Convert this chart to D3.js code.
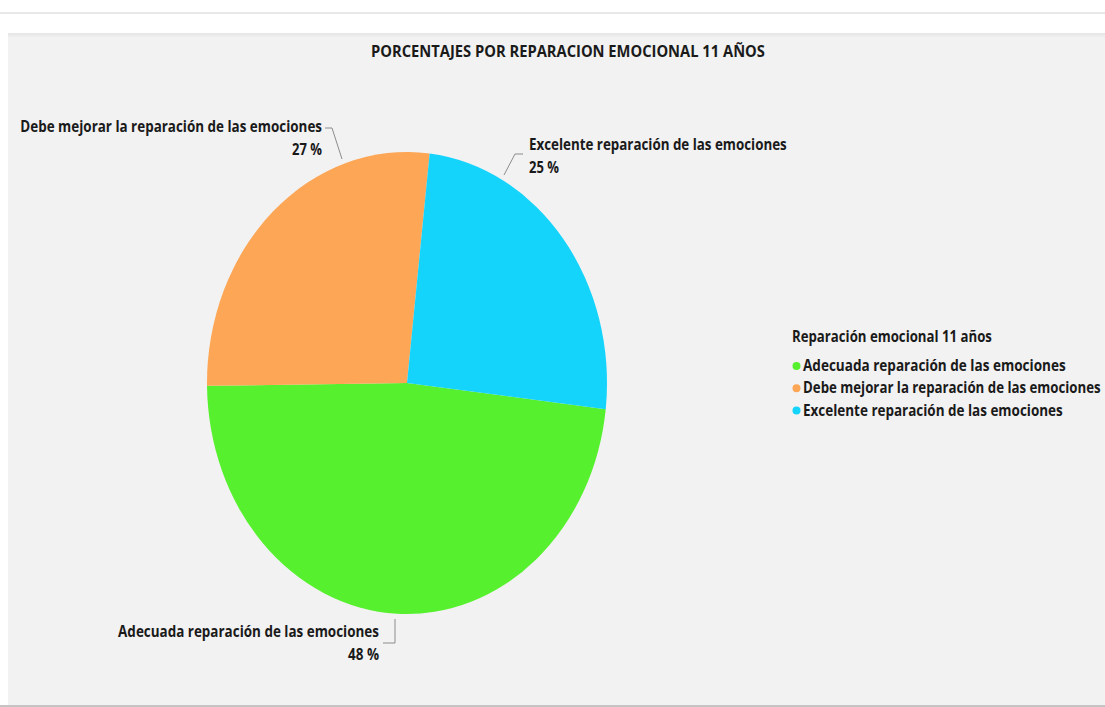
<!DOCTYPE html>
<html>
<head>
<meta charset="utf-8">
<script src="https://cdnjs.cloudflare.com/ajax/libs/d3/7.8.5/d3.min.js"></script>
<style>
  html, body { margin: 0; padding: 0; background: #ffffff; }
  svg { display: block; }
  text { font-family: "Liberation Sans Narrow", "Open Sans", "Noto Sans", sans-serif; font-weight: bold; fill: #1a1a1a; }
</style>
</head>
<body>
<svg id="chart" width="1105" height="707"></svg>
<script>
// Survey result: emotional repair, 11-year-olds
const categories = [
  "Adecuada reparación de las emociones",
  "Debe mejorar la reparación de las emociones",
  "Excelente reparación de las emociones"
];
const percentages = [48, 27, 25];
const colors = ["#56f02e", "#fca656", "#14d4fc"];
const chartTitle = "PORCENTAJES POR REPARACION EMOCIONAL 11 AÑOS";
const legendTitle = "Reparación emocional 11 años";

const W = 1105, H = 707;
const svg = d3.select("#chart");

// page frame and chart panel
svg.append("rect").attr("x", 0).attr("y", 12).attr("width", W).attr("height", 2).attr("fill", "#e8e8e8");
const defs = svg.append("defs");
const sh = defs.append("linearGradient").attr("id", "topShade").attr("x1", 0).attr("y1", 0).attr("x2", 0).attr("y2", 1);
sh.append("stop").attr("offset", 0).attr("stop-color", "#e4e4e4");
sh.append("stop").attr("offset", 1).attr("stop-color", "#f2f2f2");
svg.append("rect").attr("x", 8).attr("y", 33).attr("width", W - 8).attr("height", 672).attr("fill", "#f2f2f2");
svg.append("rect").attr("x", 8).attr("y", 33).attr("width", W - 8).attr("height", 5).attr("fill", "url(#topShade)");
svg.append("rect").attr("x", 0).attr("y", 705).attr("width", W).attr("height", 2).attr("fill", "#c4c4c4");

const FS = 16.5;

// text condensed horizontally to a given width (narrow face look)
function fitText(parent, str, x, y, width, anchor) {
  const g = parent.append("g").attr("transform", `translate(${x},${y})`);
  const t = g.append("text").attr("font-size", FS).attr("text-anchor", anchor).text(str);
  const natural = t.node().getComputedTextLength();
  t.attr("transform", `scale(${width / natural},1)`);
  return t;
}

// title
fitText(svg, chartTitle, 568, 57, 394, "middle");

// pie (drawn on a slightly stretched ellipse)
const cx = 407, cy = 383, r = 200, sy = 231 / 200;
const start = 96.5 * Math.PI / 180;
const pie = d3.pie().sort(null).value(d => d).startAngle(start).endAngle(start + 2 * Math.PI);
const arc = d3.arc().innerRadius(0).outerRadius(r);
const arcs = pie(percentages);

svg.append("g")
  .attr("transform", `translate(${cx},${cy}) scale(1,${sy})`)
  .selectAll("path")
  .data(arcs)
  .join("path")
  .attr("d", arc)
  .attr("fill", (d, i) => colors[i]);

// data labels with leader lines
const labelLayout = [
  { x: 379, y: 637, anchor: "end",   w: 261, pw: 31, line: [[383, 643], [395, 643], [395, 619]] },
  { x: 322, y: 132, anchor: "end",   w: 302, pw: 30, line: [[325, 128], [332, 128], [342, 159]] },
  { x: 529, y: 150, anchor: "start", w: 258, pw: 30, line: [[523, 154], [515, 154], [504, 175]] }
];

labelLayout.forEach((L, i) => {
  svg.append("polyline")
    .attr("points", L.line.map(p => p.join(",")).join(" "))
    .attr("fill", "none").attr("stroke", "#8c8c8c").attr("stroke-width", 1);
  fitText(svg, categories[i], L.x, L.y, L.w, L.anchor);
  fitText(svg, `${percentages[i]} %`, L.x, L.y + 22.5, L.pw, L.anchor);
});

// legend
const lg = svg.append("g");
fitText(lg, legendTitle, 792, 342, 200, "start");
const legendWidths = [263, 298, 260];
categories.forEach((c, i) => {
  const y = 366 + i * 22.3;
  lg.append("circle").attr("cx", 796.5).attr("cy", y).attr("r", 4).attr("fill", colors[i]);
  fitText(lg, c, 803, y + 5, legendWidths[i], "start");
});
</script>
</body>
</html>
